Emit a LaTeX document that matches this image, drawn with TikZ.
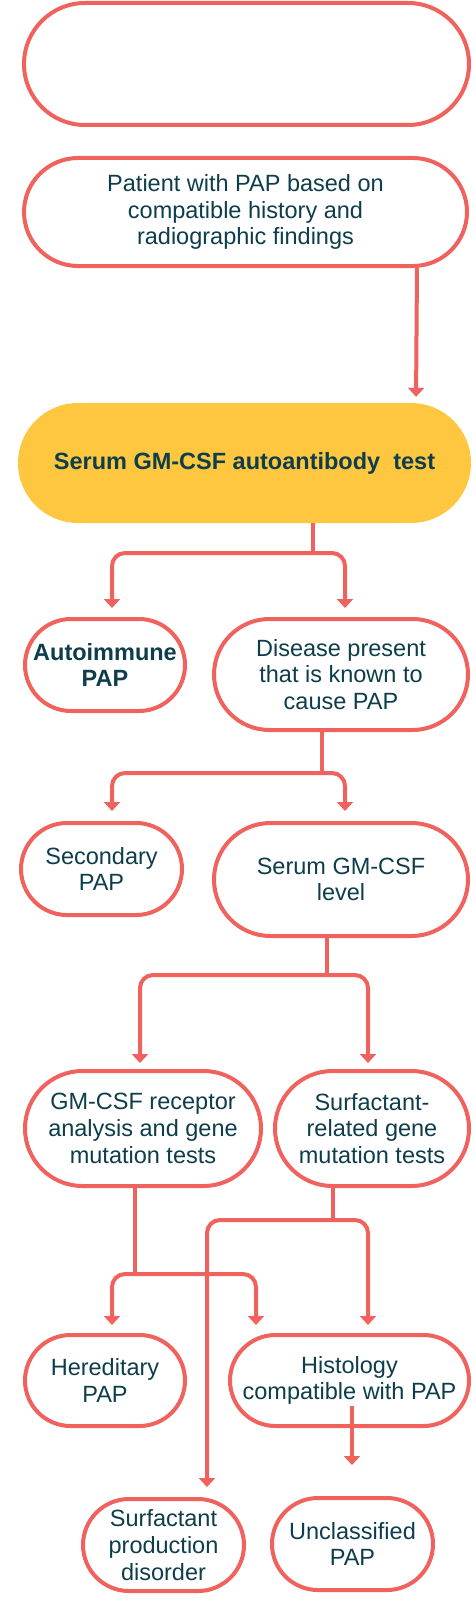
\documentclass[tikz,border=0pt]{standalone}
\usepackage{fontspec}
\setmainfont{Liberation Sans}
\usetikzlibrary{arrows.meta,shapes.misc}
\definecolor{coral}{HTML}{F0625E}
\definecolor{ink}{HTML}{0E3D4B}
\definecolor{gold}{HTML}{FFC73F}
\begin{document}
\begin{tikzpicture}[x=1pt,y=-1pt,
  box/.style={rounded rectangle, draw=coral, line width=4pt, fill=white, text=ink,
    align=center, inner sep=0pt, font=\fontsize{23.5}{26.7}\selectfont},
  line/.style={draw=coral, line width=4pt},
  arr/.style={line, -{Triangle[width=16pt,length=9pt]}, rounded corners=13pt},
  lbl/.style={text=white, inner sep=0pt, font=\fontsize{22.5}{26}\selectfont}]
\useasboundingbox (0,0) rectangle (476,1605);

% boxes
\node[box, text=white, minimum width=445pt, minimum height=122pt] (top) at (246.5,64)
  {Differential diagnosis\\of PAP algorithm};
\node[box, minimum width=443pt, minimum height=108pt] (patient) at (245.5,212)
  {Patient with PAP based on\\compatible history and\\radiographic findings};
\node[rounded rectangle, fill=gold, text=ink, inner sep=0pt, minimum width=453pt, minimum height=120pt,
  font=\fontsize{23.5}{26.7}\selectfont\bfseries] (serum) at (244.5,463)
  {Serum GM-CSF autoantibody~ test};
\node[box, font=\fontsize{23.5}{26.7}\selectfont\bfseries, minimum width=160pt, minimum height=92pt] (auto) at (105,665)
  {Autoimmune\\PAP};
\node[box, minimum width=254pt, minimum height=111pt] (disease) at (341,674.5)
  {Disease present\\that is known to\\cause PAP};
\node[box, minimum width=161pt, minimum height=92pt] (secondary) at (101.5,869)
  {Secondary\\PAP};
\node[box, minimum width=254pt, minimum height=113pt] (level) at (341,879.5)
  {Serum GM-CSF\\level};
\node[box, minimum width=236pt, minimum height=115pt] (receptor) at (143,1128.5)
  {GM-CSF receptor\\analysis and gene\\mutation tests};
\node[box, minimum width=194pt, minimum height=115pt] (surfrel) at (372,1128.5)
  {Surfactant-\\related gene\\mutation tests};
\node[box, minimum width=160pt, minimum height=91pt] (hered) at (105,1380.5)
  {Hereditary\\PAP};
\node[box, minimum width=239pt, minimum height=91pt] (histo) at (349.5,1380.5)
  {Histology\\compatible with PAP};
\node[box, minimum width=161pt, minimum height=92pt] (surfprod) at (163.5,1545)
  {Surfactant\\production\\disorder};
\node[box, minimum width=161pt, minimum height=92pt] (unclass) at (352.5,1544)
  {Unclassified\\PAP};

% hidden (white) texts
\node[lbl, align=right, anchor=east, font=\fontsize{20}{22.5}\selectfont] (rec) at (403,341)
  {Recommend GM-CSF autoantibody testing\\for diagnosing autoimmune PAP\\for all patients with suspected or confirmed\\PAP syndrome};
\node[lbl] (l1) at (58,578) {Positive};
\node[lbl] (l2) at (406,578) {Negative};
\node[lbl] (l3) at (61,782) {Present};
\node[lbl] (l4) at (394,782) {Absent};
\node[lbl] (l5) at (87,1005) {Positive};
\node[lbl] (l6) at (426,1005) {Negative};
\node[lbl] (l7) at (260,1247) {Positive};
\node[lbl] (l8) at (427,1247) {Negative};
\node[lbl] (l9) at (62,1303) {Positive};
\node[lbl] (l10) at (309,1298) {Negative};
\node[lbl] (l11) at (415,1462) {Negative};

% junctions
\coordinate (j1) at (313,553);
\coordinate (j2) at (322,773);
\coordinate (j3) at (327,975);
\coordinate (j4) at (135,1274);
\coordinate (j5) at (333,1220);

% connectors
\draw[arr, shorten >=6pt] ([xshift=171.5pt]patient.south) -- ([xshift=171.5pt]serum.north);

\draw[line] ([xshift=68.5pt]serum.south) -- (j1);
\draw[arr, shorten >=9pt] (j1) -| ([xshift=7pt]auto.north);
\draw[arr, shorten >=9pt] (j1) -| ([xshift=4pt]disease.north);

\draw[line] ([xshift=-19pt]disease.south) -- (j2);
\draw[arr, shorten >=10pt] (j2) -| ([xshift=10.5pt]secondary.north);
\draw[arr, shorten >=10pt] (j2) -| ([xshift=4pt]level.north);

\draw[line] ([xshift=-14pt]level.south) -- (j3);
\draw[arr, shorten >=6pt] (j3) -| ([xshift=-3pt]receptor.north);
\draw[arr, shorten >=6pt] (j3) -| ([xshift=-4pt]surfrel.north);

\draw[line] ([xshift=-8pt]receptor.south) -- (j4);
\draw[arr, shorten >=8pt] (j4) -| ([xshift=7pt]hered.north);
\draw[arr, shorten >=8pt] (j4) -| ([xshift=-93.5pt]histo.north);

\draw[line] ([xshift=-39pt]surfrel.south) -- (j5);
\draw[arr, shorten >=10pt] (j5) -| ([xshift=43.5pt]surfprod.north);
\draw[arr, shorten >=8pt] (j5) -| ([xshift=18.5pt]histo.north);

\draw[arr, shorten >=31pt] ([xshift=2.5pt,yshift=22pt]histo.south) -- ([xshift=-0.5pt]unclass.north);
\end{tikzpicture}
\end{document}
